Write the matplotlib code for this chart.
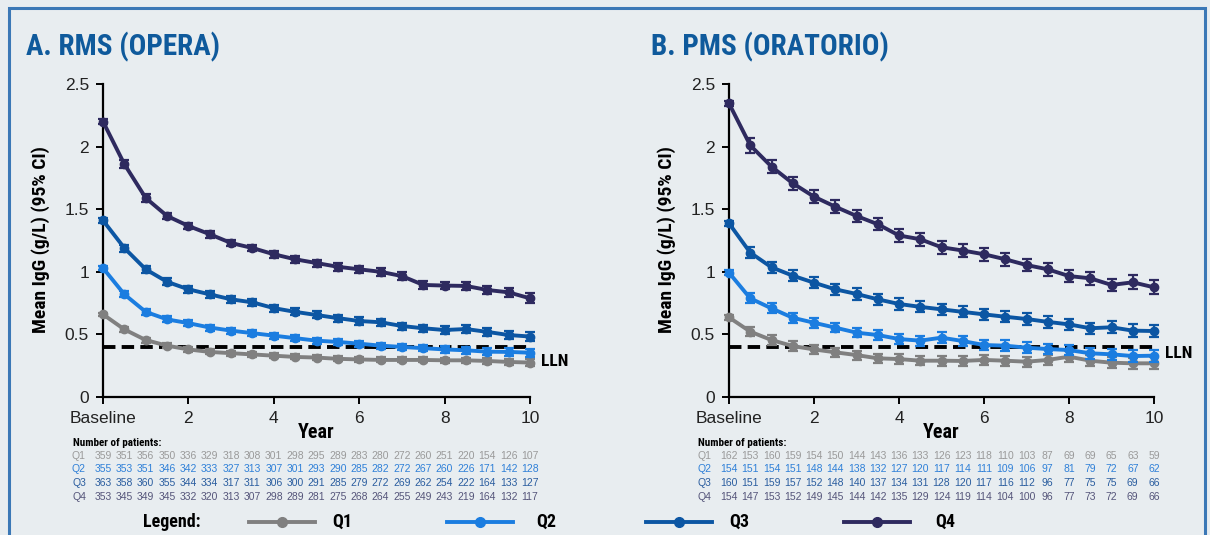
import matplotlib
matplotlib.use("Agg")
import matplotlib.pyplot as plt
from matplotlib.patches import Rectangle
from matplotlib.lines import Line2D
from matplotlib.transforms import blended_transform_factory

# ---------------- data ----------------
years = [0, 0.5, 1, 1.5, 2, 2.5, 3, 3.5, 4, 4.5, 5, 5.5, 6, 6.5, 7, 7.5, 8, 8.5, 9, 9.5, 10]
xtick_vals = [0, 2, 4, 6, 8, 10]
xtick_labels = ["Baseline", "2", "4", "6", "8", "10"]
series_names = ["Q1", "Q2", "Q3", "Q4"]
lln_value = 0.4

rms_q1 = [0.66, 0.54, 0.455, 0.41, 0.38, 0.36, 0.35, 0.34, 0.33, 0.32, 0.315, 0.305, 0.30, 0.296, 0.296, 0.296, 0.293, 0.293, 0.288, 0.28, 0.275]
rms_q2 = [1.03, 0.82, 0.68, 0.62, 0.59, 0.555, 0.53, 0.51, 0.49, 0.47, 0.45, 0.44, 0.426, 0.41, 0.40, 0.39, 0.38, 0.373, 0.362, 0.36, 0.354]
rms_q3 = [1.41, 1.19, 1.02, 0.92, 0.86, 0.82, 0.78, 0.756, 0.71, 0.68, 0.655, 0.63, 0.607, 0.597, 0.567, 0.549, 0.535, 0.543, 0.52, 0.495, 0.483]
rms_q4 = [2.20, 1.86, 1.59, 1.446, 1.366, 1.30, 1.23, 1.19, 1.14, 1.10, 1.07, 1.04, 1.02, 1.00, 0.966, 0.895, 0.89, 0.887, 0.855, 0.836, 0.788]
rms_q1_ci = [0.012, 0.02, 0.02, 0.02, 0.02, 0.02, 0.02, 0.02, 0.02, 0.02, 0.02, 0.02, 0.02, 0.02, 0.02, 0.02, 0.022, 0.022, 0.024, 0.026, 0.028]
rms_q2_ci = [0.015, 0.025, 0.024, 0.024, 0.024, 0.024, 0.024, 0.024, 0.025, 0.025, 0.025, 0.025, 0.025, 0.025, 0.025, 0.026, 0.026, 0.027, 0.028, 0.03, 0.032]
rms_q3_ci = [0.018, 0.028, 0.028, 0.027, 0.027, 0.027, 0.027, 0.027, 0.028, 0.028, 0.028, 0.028, 0.028, 0.028, 0.028, 0.028, 0.03, 0.03, 0.032, 0.035, 0.038]
rms_q4_ci = [0.02, 0.033, 0.03, 0.027, 0.027, 0.027, 0.027, 0.027, 0.028, 0.028, 0.028, 0.03, 0.03, 0.03, 0.03, 0.03, 0.03, 0.03, 0.033, 0.035, 0.04]

pms_q1 = [0.636, 0.522, 0.455, 0.407, 0.38, 0.357, 0.335, 0.309, 0.303, 0.29, 0.29, 0.288, 0.296, 0.29, 0.282, 0.296, 0.322, 0.29, 0.274, 0.269, 0.269]
pms_q2 = [0.993, 0.788, 0.708, 0.633, 0.593, 0.554, 0.514, 0.495, 0.463, 0.45, 0.474, 0.447, 0.415, 0.41, 0.394, 0.383, 0.375, 0.349, 0.341, 0.327, 0.33]
pms_q3 = [1.387, 1.153, 1.036, 0.969, 0.913, 0.86, 0.823, 0.78, 0.743, 0.72, 0.70, 0.68, 0.66, 0.641, 0.623, 0.60, 0.58, 0.549, 0.557, 0.53, 0.527]
pms_q4 = [2.345, 2.01, 1.84, 1.707, 1.60, 1.52, 1.446, 1.38, 1.29, 1.26, 1.196, 1.17, 1.14, 1.10, 1.054, 1.02, 0.966, 0.948, 0.895, 0.916, 0.876]
pms_q1_ci = [0.02, 0.035, 0.04, 0.04, 0.038, 0.036, 0.036, 0.036, 0.038, 0.038, 0.04, 0.04, 0.04, 0.04, 0.04, 0.042, 0.042, 0.042, 0.044, 0.046, 0.048]
pms_q2_ci = [0.02, 0.04, 0.04, 0.04, 0.038, 0.038, 0.038, 0.038, 0.04, 0.04, 0.042, 0.042, 0.042, 0.042, 0.042, 0.042, 0.042, 0.042, 0.044, 0.046, 0.048]
pms_q3_ci = [0.02, 0.045, 0.045, 0.045, 0.045, 0.045, 0.045, 0.045, 0.045, 0.045, 0.045, 0.045, 0.045, 0.045, 0.045, 0.045, 0.046, 0.046, 0.048, 0.05, 0.05]
pms_q4_ci = [0.02, 0.06, 0.05, 0.05, 0.05, 0.05, 0.05, 0.05, 0.05, 0.05, 0.05, 0.05, 0.05, 0.05, 0.05, 0.05, 0.05, 0.05, 0.05, 0.055, 0.055]

rms_n_q1 = [359, 351, 356, 350, 336, 329, 318, 308, 301, 298, 295, 289, 283, 280, 272, 260, 251, 220, 154, 126, 107]
rms_n_q2 = [355, 353, 351, 346, 342, 333, 327, 313, 307, 301, 293, 290, 285, 282, 272, 267, 260, 226, 171, 142, 128]
rms_n_q3 = [363, 358, 360, 355, 344, 334, 317, 311, 306, 300, 291, 285, 279, 272, 269, 262, 254, 222, 164, 133, 127]
rms_n_q4 = [353, 345, 349, 345, 332, 320, 313, 307, 298, 289, 281, 275, 268, 264, 255, 249, 243, 219, 164, 132, 117]
pms_n_q1 = [162, 153, 160, 159, 154, 150, 144, 143, 136, 133, 126, 123, 118, 110, 103, 87, 69, 69, 65, 63, 59]
pms_n_q2 = [154, 151, 154, 151, 148, 144, 138, 132, 127, 120, 117, 114, 111, 109, 106, 97, 81, 79, 72, 67, 62]
pms_n_q3 = [160, 151, 159, 157, 152, 148, 140, 137, 134, 131, 128, 120, 117, 116, 112, 96, 77, 75, 75, 69, 66]
pms_n_q4 = [154, 147, 153, 152, 149, 145, 144, 142, 135, 129, 124, 119, 114, 104, 100, 96, 77, 73, 72, 69, 66]

# ---------------- style ----------------
BG = "#e8edf0"
FRAME = "#3b78b6"
TITLE_C = "#0f5a9c"
line_colors = ["#808080", "#1b7de0", "#0c56a3", "#2e2a5f"]
num_colors = ["#9a9a9a", "#2f80d8", "#2a5d9f", "#55557a"]
REG = ["Liberation Sans", "DejaVu Sans"]
NARROW = ["Roboto Condensed", "DejaVu Sans"]

fig = plt.figure(figsize=(12.1, 5.35), dpi=100, facecolor=BG)
fig.patches.append(Rectangle((9 / 1210, -0.05), (1205 - 9) / 1210, 1 - 8 / 535 + 0.05,
                             transform=fig.transFigure, fill=False, edgecolor=FRAME,
                             linewidth=2.2, zorder=0))

panels = [
    dict(left=103, right=530, title="A. RMS (OPERA)", title_x=26, ylab_x=41,
         means=[rms_q1, rms_q2, rms_q3, rms_q4], cis=[rms_q1_ci, rms_q2_ci, rms_q3_ci, rms_q4_ci],
         ns=[rms_n_q1, rms_n_q2, rms_n_q3, rms_n_q4], lab_x=79, npat_x=73, lln_y=0.28),
    dict(left=729, right=1154, title="B. PMS (ORATORIO)", title_x=651, ylab_x=667,
         means=[pms_q1, pms_q2, pms_q3, pms_q4], cis=[pms_q1_ci, pms_q2_ci, pms_q3_ci, pms_q4_ci],
         ns=[pms_n_q1, pms_n_q2, pms_n_q3, pms_n_q4], lab_x=704, npat_x=698, lln_y=0.35),
]

W, H = 1210, 535
y0_px, y1_px = 397, 84

for p in panels:
    ax = fig.add_axes([p["left"] / W, 1 - y0_px / H, (p["right"] - p["left"]) / W, (y0_px - y1_px) / H])
    ax.set_facecolor(BG)
    ax.set_xlim(0, 10)
    ax.set_ylim(0, 2.5)
    for s in ["top", "right"]:
        ax.spines[s].set_visible(False)
    for s in ["left", "bottom"]:
        ax.spines[s].set_linewidth(1.6)
        ax.spines[s].set_color("black")
    ax.set_xticks(xtick_vals)
    ax.set_xticklabels(xtick_labels)
    ax.set_yticks([0, 0.5, 1, 1.5, 2, 2.5])
    ax.set_yticklabels(["0", "0.5", "1", "1.5", "2", "2.5"])
    ax.tick_params(axis="both", direction="out", length=5, width=1.4, labelsize=12.5,
                   labelcolor="#222222", pad=5)
    for lab in ax.get_xticklabels() + ax.get_yticklabels():
        lab.set_family(REG)

    ax.plot([0, 10], [lln_value, lln_value], linestyle=(0, (3.2, 1.6)), color="black",
            linewidth=2.8, zorder=2, clip_on=False)
    ax.text(10.25, p["lln_y"], "LLN", fontsize=12.5, fontweight="bold", family=NARROW,
            va="center", ha="left")

    for i in range(4):
        ax.errorbar(years, p["means"][i], yerr=p["cis"][i], color=line_colors[i],
                    linewidth=2.8, marker="o", markersize=6, capsize=3.8, capthick=1.6,
                    elinewidth=1.6, zorder=3 + i, clip_on=False)

    fig.text(p["title_x"] / W, 1 - 55 / H, p["title"], fontsize=21, fontweight="bold",
             color=TITLE_C, family=NARROW, ha="left", va="baseline")
    fig.text(p["ylab_x"] / W, 1 - 240 / H, "Mean IgG (g/L) (95% CI)", rotation=90,
             fontsize=14, fontweight="bold", family=NARROW, ha="center", va="center")
    fig.text((p["left"] + p["right"]) / 2 / W, 1 - 432 / H, "Year", fontsize=14.5,
             fontweight="bold", family=NARROW, ha="center", va="center")

    fig.text(p["npat_x"] / W, 1 - 443 / H, "Number of patients:", fontsize=8,
             fontweight="bold", family=NARROW, ha="left", va="center")
    tr = blended_transform_factory(ax.transData, fig.transFigure)
    row_y = [456, 469, 483, 497]
    for i in range(4):
        fig.text(p["lab_x"] / W, 1 - row_y[i] / H, series_names[i], fontsize=7.5,
                 color=num_colors[i], family=REG, ha="center", va="center")
        for x, n in zip(years, p["ns"][i]):
            ax.text(x, 1 - row_y[i] / H, str(n), transform=tr, fontsize=7.5,
                    color=num_colors[i], family=REG, ha="center", va="center", clip_on=False)

leg_y = 1 - 522 / H
fig.text(172 / W, leg_y, "Legend:", fontsize=13, fontweight="bold", family=NARROW,
         ha="center", va="center")
leg_items = [(249, 315, 342), (447, 513, 546), (646, 712, 739), (844, 910, 945)]
for i, (xa, xb, xt) in enumerate(leg_items):
    fig.lines.append(Line2D([xa / W, xb / W], [leg_y, leg_y], transform=fig.transFigure,
                            color=line_colors[i], linewidth=2.8))
    fig.lines.append(Line2D([(xa + xb) / 2 / W], [leg_y], transform=fig.transFigure,
                            color=line_colors[i], marker="o", markersize=7, linestyle="none"))
    fig.text(xt / W, leg_y, series_names[i], fontsize=13, fontweight="bold", family=NARROW,
             ha="center", va="center")

fig.savefig("out.png", dpi=100, facecolor=BG)
